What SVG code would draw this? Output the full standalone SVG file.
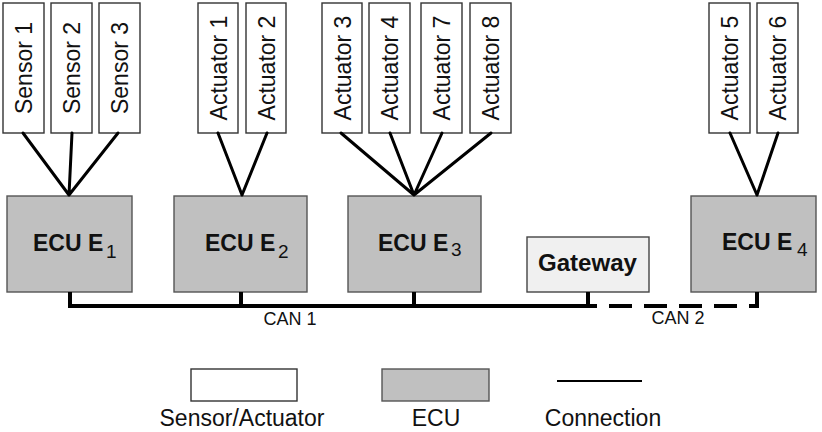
<svg xmlns="http://www.w3.org/2000/svg" width="822" height="432" viewBox="0 0 822 432">
<style>
.dev{fill:#ffffff;stroke:#333;stroke-width:1.4}
.ecu{fill:#c0c0c0;stroke:#555;stroke-width:1.4}
.gw{fill:#f0f0f0;stroke:#444;stroke-width:1.4}
.vt{font-family:"Liberation Sans",Arial,sans-serif;font-size:23px;fill:#111;text-anchor:middle}
.et{font-family:"Liberation Sans",Arial,sans-serif;font-size:23px;font-weight:bold;fill:#111}
.sub{font-family:"Liberation Sans",Arial,sans-serif;font-size:19px;font-weight:normal;fill:#111}
.lbl{font-family:"Liberation Sans",Arial,sans-serif;font-size:18px;fill:#111;text-anchor:middle}
.leg{font-family:"Liberation Sans",Arial,sans-serif;font-size:23px;fill:#111;text-anchor:middle}
.wire{stroke:#000;stroke-width:3;fill:none;stroke-linecap:round}
.bus{stroke:#000;stroke-width:4;fill:none}
.bus2{stroke:#000;stroke-width:4;fill:none;stroke-dasharray:23 12;stroke-dashoffset:14}
</style>
<g id="sensor1"><rect class="dev" x="3" y="3" width="41" height="130"/><text class="vt" transform="translate(32,68) rotate(-90)">Sensor 1</text></g>
<g id="sensor2"><rect class="dev" x="51" y="3" width="41" height="130"/><text class="vt" transform="translate(80,68) rotate(-90)">Sensor 2</text></g>
<g id="sensor3"><rect class="dev" x="99" y="3" width="41" height="130"/><text class="vt" transform="translate(128,68) rotate(-90)">Sensor 3</text></g>
<g id="actuator1"><rect class="dev" x="198" y="3" width="40" height="130"/><text class="vt" transform="translate(227,68) rotate(-90)">Actuator 1</text></g>
<g id="actuator2"><rect class="dev" x="246" y="3" width="40" height="130"/><text class="vt" transform="translate(275,68) rotate(-90)">Actuator 2</text></g>
<g id="actuator3"><rect class="dev" x="322" y="3" width="40" height="130"/><text class="vt" transform="translate(351,68) rotate(-90)">Actuator 3</text></g>
<g id="actuator4"><rect class="dev" x="369" y="3" width="41" height="130"/><text class="vt" transform="translate(398,68) rotate(-90)">Actuator 4</text></g>
<g id="actuator7"><rect class="dev" x="421" y="3" width="41" height="130"/><text class="vt" transform="translate(450,68) rotate(-90)">Actuator 7</text></g>
<g id="actuator8"><rect class="dev" x="470" y="3" width="41" height="130"/><text class="vt" transform="translate(499,68) rotate(-90)">Actuator 8</text></g>
<g id="actuator5"><rect class="dev" x="709" y="3" width="41" height="130"/><text class="vt" transform="translate(738,68) rotate(-90)">Actuator 5</text></g>
<g id="actuator6"><rect class="dev" x="757" y="3" width="41" height="130"/><text class="vt" transform="translate(786,68) rotate(-90)">Actuator 6</text></g>
<g id="ecu1"><rect class="ecu" x="7" y="196" width="125" height="96"/><text class="et" x="33" y="251">ECU E</text><text class="sub" x="106" y="258">1</text></g>
<g id="ecu2"><rect class="ecu" x="174" y="196" width="133" height="96"/><text class="et" x="205" y="251">ECU E</text><text class="sub" x="278" y="258">2</text></g>
<g id="ecu3"><rect class="ecu" x="348" y="196" width="133" height="96"/><text class="et" x="378" y="251">ECU E</text><text class="sub" x="451" y="256">3</text></g>
<g id="ecu4"><rect class="ecu" x="691" y="196" width="125" height="96"/><text class="et" x="722" y="250">ECU E</text><text class="sub" x="797" y="256">4</text></g>
<g id="gateway"><rect class="gw" x="527" y="237" width="122" height="55"/><text class="et" x="538" y="271" font-size="20" textLength="99" lengthAdjust="spacingAndGlyphs">Gateway</text></g>
<g id="connectors">
<path class="wire" d="M23,133 L69,195 M72,133 L69,195 M118,133 L69,195"/>
<path class="wire" d="M218,133 L242,195 M267,133 L242,195"/>
<path class="wire" d="M341,133 L414,195 M390,133 L414,195 M442,133 L414,195 M491,133 L414,195"/>
<path class="wire" d="M730,133 L757,195 M778,133 L757,195"/>
<path class="bus" d="M70,292 V306 M241,292 V306 M414,292 V306 M588,292 V306 M68,306 H590"/>
<path class="bus2" d="M588,306 H757"/>
<path class="bus" d="M757,292 V308"/>
</g>
<text class="lbl" x="290" y="325">CAN 1</text>
<text class="lbl" x="678" y="324">CAN 2</text>
<g id="legend">
<rect class="dev" x="191" y="369" width="106" height="32"/>
<rect class="ecu" x="382" y="369" width="107" height="32"/>
<line x1="557" y1="381" x2="642" y2="381" stroke="#000" stroke-width="2"/>
<text class="leg" x="242" y="426">Sensor/Actuator</text>
<text class="leg" x="436" y="426">ECU</text>
<text class="leg" x="603" y="426">Connection</text>
</g>
</svg>
